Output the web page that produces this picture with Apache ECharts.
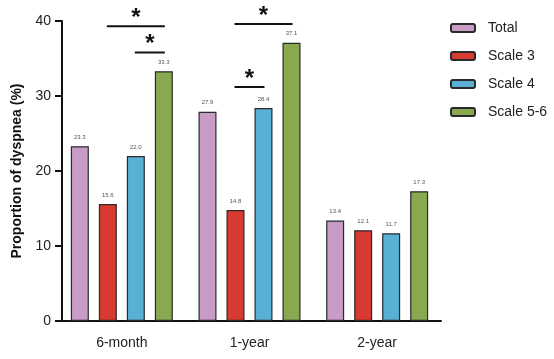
<!DOCTYPE html>
<html><head><meta charset="utf-8">
<script src="https://cdn.jsdelivr.net/npm/echarts@6/dist/echarts.min.js"></script>
<style>html,body{margin:0;padding:0;background:#fff}#c{width:554px;height:359px}</style>
</head><body><div id="c"></div>
<script>
const categories = ['6-month', '1-year', '2-year'];
const seriesNames = ['Total', 'Scale 3', 'Scale 4', 'Scale 5-6'];
const total = [23.3, 27.9, 13.4];
const scale3 = [15.6, 14.8, 12.1];
const scale4 = [22.0, 28.4, 11.7];
const scale56 = [33.3, 37.1, 17.3];
const yTicks = [0, 10, 20, 30, 40];
// significance brackets: [categoryIndex, fromSeriesIndex, toSeriesIndex, level]
const sigBrackets = [[0, 1, 3, 39.3], [0, 2, 3, 35.8], [1, 1, 3, 39.6], [1, 1, 2, 31.2]];

const colors = ['#C99CC6', '#D83A31', '#5AAFD4', '#88A94F'];
const BAR_W = 18, BAR_GAP = 10;
const chart = echarts.init(document.getElementById('c'));
const values = [total, scale3, scale4, scale56];
const font = 'Liberation Sans, Arial, sans-serif';

const barSeries = seriesNames.map((n, i) => ({
  name: n, type: 'bar', data: values[i], barWidth: BAR_W, barGap: (BAR_GAP / BAR_W * 100) + '%',
  itemStyle: { color: colors[i], borderColor: '#2a2a2a', borderWidth: 1.2 },
  label: { show: true, position: 'top', distance: 6, fontSize: 6, color: '#555', fontFamily: font,
           formatter: p => p.value.toFixed(1) },
  emphasis: { disabled: true }, animation: false
}));

const sigSeries = {
  type: 'custom', silent: true, animation: false, z: 10,
  data: sigBrackets,
  encode: { x: 0, y: 3 },
  renderItem: function (params, api) {
    const cat = api.value(0), a = api.value(1), b = api.value(2), lvl = api.value(3);
    const c = api.coord([cat, lvl]);
    const groupW = 4 * BAR_W + 3 * BAR_GAP;
    const xOf = i => c[0] - groupW / 2 + BAR_W / 2 + i * (BAR_W + BAR_GAP);
    const x1 = xOf(a) - 1, x2 = xOf(b) + 1;
    return { type: 'group', children: [
      { type: 'line', shape: { x1: x1, y1: c[1], x2: x2, y2: c[1] }, style: { stroke: '#111', lineWidth: 2 } },
      { type: 'text', style: { text: '*', x: (x1 + x2) / 2, y: c[1] + 4, align: 'center', verticalAlign: 'bottom',
        fontSize: 24, fontWeight: 'bold', fill: '#111', fontFamily: font } }
    ]};
  }
};

chart.setOption({
  animation: false,
  color: colors,
  grid: { left: 58, right: 113, top: 21, bottom: 38, containLabel: false },
  legend: {
    orient: 'vertical', left: 445, top: 15, itemWidth: 24, itemHeight: 8, itemGap: 12,
    data: seriesNames, selectedMode: false,
    textStyle: { fontSize: 14, color: '#222', fontFamily: font, lineHeight: 16, padding: [0, 0, 0, 8] }
  },
  xAxis: {
    type: 'category', data: categories,
    axisLine: { lineStyle: { color: '#111', width: 2 } },
    axisTick: { alignWithLabel: true, length: 6, lineStyle: { color: '#111', width: 2 } },
    axisLabel: { fontSize: 14, color: '#222', margin: 15, fontFamily: font }
  },
  yAxis: {
    type: 'value', min: 0, max: 40, interval: 10, offset: -4,
    name: 'Proportion of dyspnea (%)', nameLocation: 'middle', nameGap: 26,
    nameTextStyle: { fontSize: 14, fontWeight: 'bold', color: '#111', fontFamily: font },
    axisLine: { show: true, lineStyle: { color: '#111', width: 2 } },
    axisTick: { show: true, length: 7, lineStyle: { color: '#111', width: 2 } },
    axisLabel: { fontSize: 14, color: '#222', margin: 11, fontFamily: font,
                 formatter: v => yTicks.includes(v) ? String(v) : '' },
    splitLine: { show: false }
  },
  series: barSeries.concat([sigSeries])
});
</script></body></html>
